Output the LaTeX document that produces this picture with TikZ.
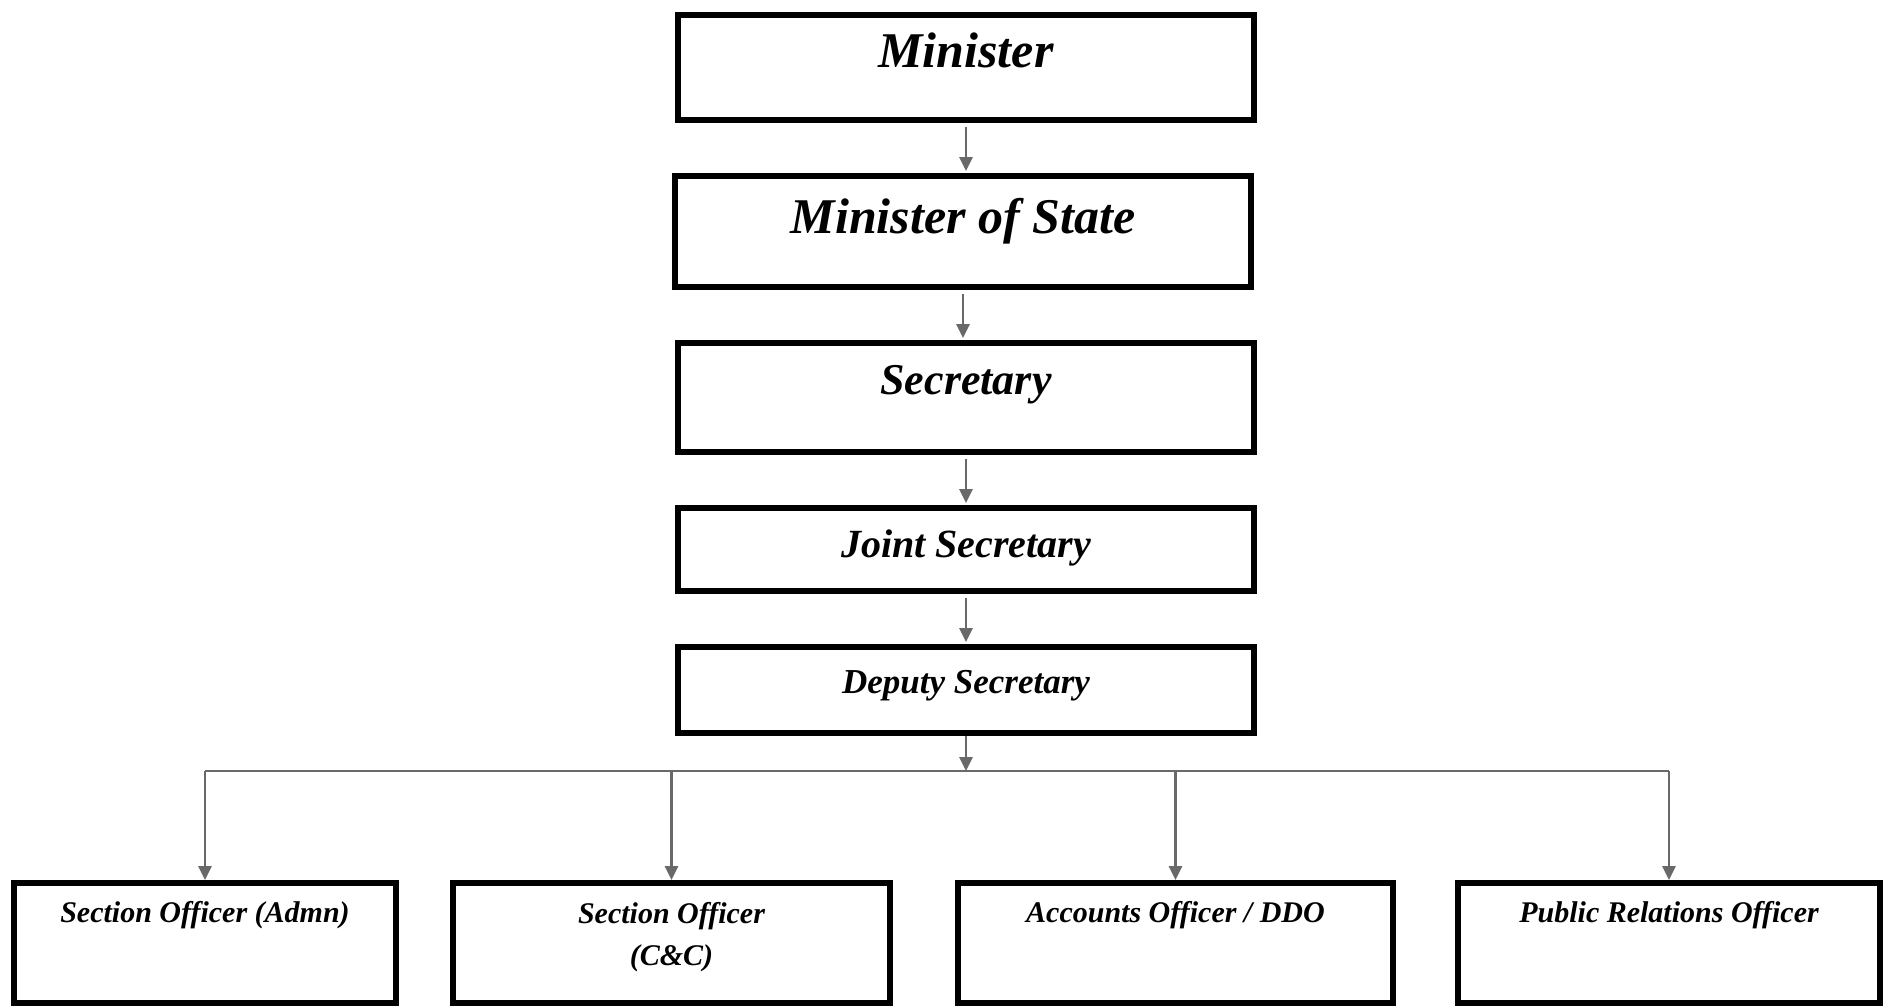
\documentclass[tikz,border=0pt]{standalone}
\usepackage{fontspec}
\setmainfont{Liberation Serif}
\usetikzlibrary{arrows.meta,positioning,calc}
\definecolor{OrgSeta}{RGB}{105,105,105}
\tikzset{
  cargo/.style={draw=black, line width=3pt, fill=white, align=center,
                inner xsep=4pt, inner ysep=0pt, minimum width=288pt},
  cargobase/.style={draw=black, line width=3pt, fill=white, align=center,
                inner xsep=4pt, inner ysep=0pt, anchor=north,
                font=\fontsize{15}{21}\selectfont\bfseries\itshape},
  seta/.style={-{Triangle[length=7pt,width=6.5pt]}, line width=1.4pt, OrgSeta,
               shorten <=2pt, shorten >=1pt},
  setabarra/.style={-{Triangle[length=7pt,width=6.5pt]}, line width=1.4pt, OrgSeta},
  barra/.style={line width=1.4pt, OrgSeta},
}

\begin{document}
\begin{tikzpicture}[x=0.5pt, y=-0.5pt, node distance=25pt]
  \useasboundingbox (0,0) rectangle (1888,1006);

  % Coluna central
  \node[cargo, anchor=north, text height=26.5pt, text depth=26pt,
        font=\fontsize{25}{30}\selectfont\bfseries\itshape] (minister) at (966,12)
    {Minister};
  \node[cargo, below=of minister, xshift=-1.5pt, text height=28.5pt, text depth=27pt,
        font=\fontsize{25}{30}\selectfont\bfseries\itshape] (mos)
    {Minister of State};
  \node[cargo, below=of mos, xshift=1.5pt, text height=25.5pt, text depth=29pt,
        font=\fontsize{22}{26}\selectfont\bfseries\itshape] (secretary)
    {Secretary};
  \node[cargo, below=of secretary, text height=24.5pt, text depth=17pt,
        font=\fontsize{20}{24}\selectfont\bfseries\itshape] (jointsec)
    {Joint Secretary};
  \node[cargo, below=of jointsec, text height=23pt, text depth=20pt,
        font=\fontsize{17.5}{21}\selectfont\bfseries\itshape] (deputysec)
    {Deputy Secretary};

  % Linha de baixo
  \node[cargobase, minimum width=191pt, text height=19.5pt, text depth=40.5pt] (soadmn) at (205,880)
    {Section Officer (Admn)};
  \node[cargobase, minimum width=218.5pt, text height=41pt, text depth=19pt] (socc) at (671.5,880)
    {Section Officer\\(C\&C)};
  \node[cargobase, minimum width=217.5pt, text height=19.5pt, text depth=40.5pt] (accounts) at (1175.5,880)
    {Accounts Officer / DDO};
  \node[cargobase, minimum width=211pt, text height=19.5pt, text depth=40.5pt] (pro) at (1669,880)
    {Public Relations Officer};

  \coordinate (bus) at ($(deputysec.south)+(0,35)$);

  % Setas
  \draw[seta] (minister.south) -- (minister.south |- mos.north);
  \draw[seta] (mos.south) -- (mos.south |- secretary.north);
  \draw[seta] (secretary) -- (jointsec);
  \draw[seta] (jointsec) -- (deputysec);
  \draw[setabarra] (deputysec) -- (bus);
  \draw[barra] (bus -| soadmn) -- (bus -| pro);
  \draw[setabarra] (bus -| soadmn) -- (soadmn.north);
  \draw[setabarra] (bus -| socc) -- (socc.north);
  \draw[setabarra] (bus -| accounts) -- (accounts.north);
  \draw[setabarra] (bus -| pro) -- (pro.north);
\end{tikzpicture}
\end{document}
